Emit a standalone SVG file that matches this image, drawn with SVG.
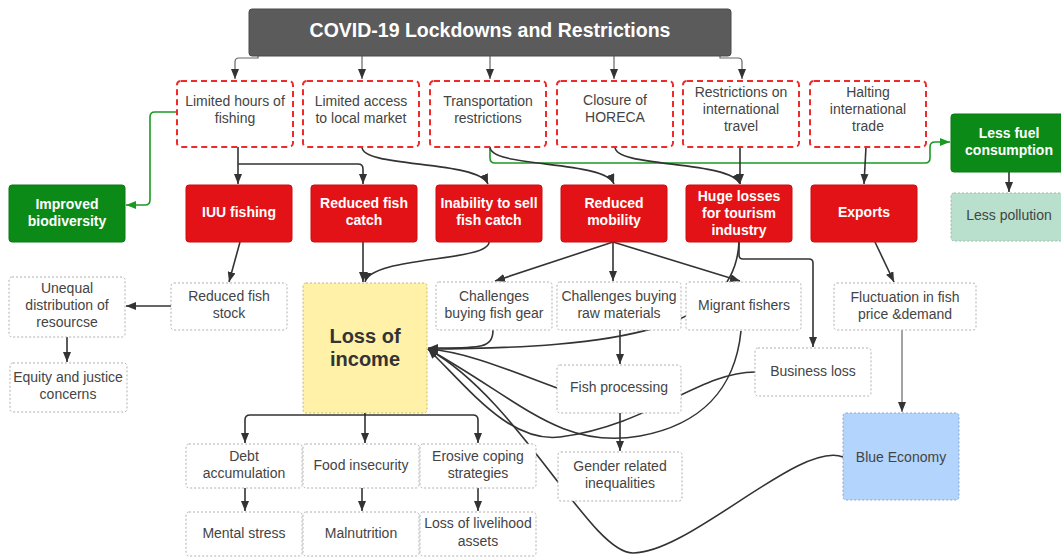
<svg xmlns="http://www.w3.org/2000/svg" width="1061" height="558" viewBox="0 0 1061 558">
  <style>
    .t { font-family: "Liberation Sans", Arial, sans-serif; font-size: 14px; fill: #444; text-anchor: middle; }
    .w { font-family: "Liberation Sans", Arial, sans-serif; font-size: 14px; font-weight: bold; fill: #fff; text-anchor: middle; }
    .cause rect { fill: #fff; stroke: #ee2a2a; stroke-width: 2; stroke-dasharray: 6 4; }
    .effect rect { fill: #e31216; stroke: #c80e10; stroke-width: 1; }
    .good rect { fill: #0b8a18; stroke: #0a7a14; stroke-width: 1; }
    .plain rect { fill: #fff; stroke: #b0b0b0; stroke-width: 1; stroke-dasharray: 2 2; }
    .link { fill: none; stroke: #333; stroke-width: 1.6; marker-end: url(#ah); }
    .thin { fill: none; stroke: #666; stroke-width: 1.2; marker-end: url(#ah); }
    .green { fill: none; stroke: #1a9a22; stroke-width: 1.6; marker-end: url(#ahg); }
  </style>
  <defs>
    <marker id="ah" viewBox="0 0 10 8" refX="10" refY="4" markerWidth="10" markerHeight="8" markerUnits="userSpaceOnUse" orient="auto">
      <path d="M0,0 L10,4 L0,8 z" fill="#333"/>
    </marker>
    <marker id="ahg" viewBox="0 0 10 8" refX="10" refY="4" markerWidth="10" markerHeight="8" markerUnits="userSpaceOnUse" orient="auto">
      <path d="M0,0 L10,4 L0,8 z" fill="#1a9a22"/>
    </marker>
  </defs>
  <rect width="1061" height="558" fill="#fff"/>

  <!-- connectors -->
  <g id="connectors">
    <path class="thin" d="M258,56 V58 H239 Q235,58 235,62 V79"/>
    <path class="thin" d="M362,56 V79"/>
    <path class="thin" d="M490,56 V79"/>
    <path class="thin" d="M614,56 V79"/>
    <path class="thin" d="M720,56 V58 H738 Q742,58 742,62 V79"/>

    <path class="green" d="M177,112 H155 Q150,112 150,117 V200 Q150,205 145,205 H126"/>
    <path class="green" d="M490,147 V158 Q490,163 495,163 H925 Q930,163 930,158 V147 Q930,142 935,142 H950"/>

    <path class="link" d="M238,147 V184"/>
    <path class="link" d="M238,164 H358 Q363,164 363,169 V184"/>
    <path class="link" d="M362,147 C362,168 478,160 488,184"/>
    <path class="link" d="M490,147 C490,168 605,160 614,184"/>
    <path class="link" d="M615,147 C615,168 730,160 740,184"/>
    <path class="link" d="M740,147 V184"/>
    <path class="link" d="M866,147 L864,184"/>
    <path class="link" d="M1009,172 V192"/>

    <path class="link" d="M240,242 L229,282"/>
    <path class="link" d="M363,242 V282"/>
    <path class="link" d="M489,242 C489,262 372,256 365,282"/>
    <path class="link" d="M613,242 L495,281"/>
    <path class="link" d="M613,242 V281"/>
    <path class="link" d="M613,242 L740,281"/>
    <path class="link" d="M739,242 V255 Q739,259 743,259 H809 Q813,259 813,263 V347"/>
    <path class="link" d="M739,242 C735,330 620,348 428,349"/>
    <path class="link" d="M875,242 L894,282"/>
    <path class="thin" d="M902,330 V412"/>
    <path class="link" d="M171,306 H126"/>
    <path class="link" d="M67,337 V362"/>

    <path class="link" d="M493,330 C493,348 480,348 440,348 L428,348"/>
    <path class="link" d="M620,330 V364"/>
    <path class="link" d="M620,413 V451"/>
    <path class="link" d="M557,388 C520,375 470,352 428,349"/>
    <path class="link" d="M741,331 C735,390 700,425 640,436 C560,450 520,400 428,349"/>
    <path class="link" d="M755,372 C700,372 650,425 560,437 C510,443 470,390 428,349"/>
    <path class="link" d="M843,457 C800,440 690,553 633,553 C590,553 520,400 428,349"/>

    <path class="link" d="M365,413 V415 H250 Q245,415 245,420 V443"/>
    <path class="link" d="M365,413 V443"/>
    <path class="link" d="M365,413 V415 H473 Q478,415 478,420 V443"/>
    <path class="link" d="M245,488 V511"/>
    <path class="link" d="M362,488 V511"/>
    <path class="link" d="M478,488 V511"/>
  </g>

  <!-- header -->
  <g id="n-title">
    <rect x="249" y="9" width="482" height="47" rx="3" fill="#5b5b5b" stroke="#4a4a4a" stroke-width="1"/>
    <text x="490" y="37" font-family="Liberation Sans, Arial, sans-serif" font-size="19.5" font-weight="bold" fill="#fff" text-anchor="middle">COVID-19 Lockdowns and Restrictions</text>
  </g>

  <!-- restrictions -->
  <g id="n-hours" class="cause"><rect x="177" y="81" width="116" height="66" rx="4"/>
    <text class="t" x="235" y="106">Limited hours of</text><text class="t" x="235" y="123">fishing</text></g>
  <g id="n-market" class="cause"><rect x="303" y="81" width="116" height="66" rx="4"/>
    <text class="t" x="361" y="106">Limited access</text><text class="t" x="361" y="123">to local market</text></g>
  <g id="n-transport" class="cause"><rect x="430" y="81" width="116" height="66" rx="4"/>
    <text class="t" x="488" y="106">Transportation</text><text class="t" x="488" y="123">restrictions</text></g>
  <g id="n-horeca" class="cause"><rect x="557" y="81" width="116" height="66" rx="4"/>
    <text class="t" x="615" y="105">Closure of</text><text class="t" x="615" y="122">HORECA</text></g>
  <g id="n-travel" class="cause"><rect x="683" y="81" width="116" height="66" rx="4"/>
    <text class="t" x="741" y="97">Restrictions on</text><text class="t" x="741" y="114">international</text><text class="t" x="741" y="131">travel</text></g>
  <g id="n-trade" class="cause"><rect x="810" y="81" width="116" height="66" rx="4"/>
    <text class="t" x="868" y="97">Halting</text><text class="t" x="868" y="114">international</text><text class="t" x="868" y="131">trade</text></g>

  <!-- direct impacts -->
  <g id="n-biodiversity" class="good"><rect x="9" y="185" width="116" height="57" rx="3"/>
    <text class="w" x="67" y="209">Improved</text><text class="w" x="67" y="226">biodiversity</text></g>
  <g id="n-iuu" class="effect"><rect x="186" y="185" width="106" height="57" rx="3"/>
    <text class="w" x="239" y="217">IUU fishing</text></g>
  <g id="n-catch" class="effect"><rect x="311" y="185" width="106" height="57" rx="3"/>
    <text class="w" x="364" y="208">Reduced fish</text><text class="w" x="364" y="225">catch</text></g>
  <g id="n-sell" class="effect"><rect x="436" y="185" width="106" height="57" rx="3"/>
    <text class="w" x="489" y="208">Inability to sell</text><text class="w" x="489" y="225">fish catch</text></g>
  <g id="n-mobility" class="effect"><rect x="561" y="185" width="106" height="57" rx="3"/>
    <text class="w" x="614" y="208">Reduced</text><text class="w" x="614" y="225">mobility</text></g>
  <g id="n-tourism" class="effect"><rect x="686" y="185" width="106" height="57" rx="3"/>
    <text class="w" x="739" y="201">Huge losses</text><text class="w" x="739" y="218">for tourism</text><text class="w" x="739" y="235">industry</text></g>
  <g id="n-exports" class="effect"><rect x="811" y="185" width="106" height="57" rx="3"/>
    <text class="w" x="864" y="217">Exports</text></g>
  <g id="n-fuel" class="good"><rect x="951" y="114" width="120" height="58" rx="3"/>
    <text class="w" x="1009" y="138">Less fuel</text><text class="w" x="1009" y="155">consumption</text></g>
  <g id="n-pollution"><rect x="951" y="193" width="120" height="48" rx="3" fill="#b8e0cc" stroke="#a0b8ac" stroke-width="1" stroke-dasharray="2 2"/>
    <text class="t" x="1009" y="220">Less pollution</text></g>

  <!-- consequences -->
  <g id="n-unequal" class="plain"><rect x="9" y="277" width="116" height="60" rx="3"/>
    <text class="t" x="67" y="293">Unequal</text><text class="t" x="67" y="310">distribution of</text><text class="t" x="67" y="327">resourcse</text></g>
  <g id="n-equity" class="plain"><rect x="10" y="363" width="117" height="49" rx="3"/>
    <text class="t" x="68" y="382">Equity and justice</text><text class="t" x="68" y="399">concerns</text></g>
  <g id="n-stock" class="plain"><rect x="171" y="283" width="116" height="47" rx="3"/>
    <text class="t" x="229" y="301">Reduced fish</text><text class="t" x="229" y="318">stock</text></g>
  <g id="n-income"><rect x="303" y="283" width="124" height="130" rx="3" fill="#fff1a8" stroke="#c8b870" stroke-width="1" stroke-dasharray="2 2"/>
    <text x="365" y="343" font-family="Liberation Sans, Arial, sans-serif" font-size="20" font-weight="bold" fill="#333" text-anchor="middle">Loss of</text>
    <text x="365" y="366" font-family="Liberation Sans, Arial, sans-serif" font-size="20" font-weight="bold" fill="#333" text-anchor="middle">income</text></g>
  <g id="n-gear" class="plain"><rect x="436" y="282" width="116" height="48" rx="3"/>
    <text class="t" x="494" y="301">Challenges</text><text class="t" x="494" y="318">buying fish gear</text></g>
  <g id="n-raw" class="plain"><rect x="557" y="282" width="124" height="48" rx="3"/>
    <text class="t" x="619" y="301">Challenges buying</text><text class="t" x="619" y="318">raw materials</text></g>
  <g id="n-migrant" class="plain"><rect x="686" y="282" width="115" height="48" rx="3"/>
    <text class="t" x="744" y="310">Migrant fishers</text></g>
  <g id="n-fluctuation" class="plain"><rect x="834" y="283" width="142" height="47" rx="3"/>
    <text class="t" x="905" y="302">Fluctuation in fish</text><text class="t" x="905" y="319">price &amp;demand</text></g>
  <g id="n-business" class="plain"><rect x="755" y="348" width="116" height="48" rx="3"/>
    <text class="t" x="813" y="376">Business loss</text></g>
  <g id="n-processing" class="plain"><rect x="557" y="365" width="124" height="48" rx="3"/>
    <text class="t" x="619" y="392">Fish processing</text></g>
  <g id="n-gender" class="plain"><rect x="558" y="452" width="124" height="49" rx="3"/>
    <text class="t" x="620" y="471">Gender related</text><text class="t" x="620" y="488">inequalities</text></g>
  <g id="n-blue"><rect x="843" y="413" width="116" height="87" rx="3" fill="#b3d4fc" stroke="#8aa8d0" stroke-width="1" stroke-dasharray="2 2"/>
    <text class="t" x="901" y="462">Blue Economy</text></g>

  <!-- household outcomes -->
  <g id="n-debt" class="plain"><rect x="186" y="444" width="116" height="44" rx="3"/>
    <text class="t" x="244" y="461">Debt</text><text class="t" x="244" y="478">accumulation</text></g>
  <g id="n-food" class="plain"><rect x="303" y="444" width="116" height="44" rx="3"/>
    <text class="t" x="361" y="470">Food insecurity</text></g>
  <g id="n-coping" class="plain"><rect x="420" y="444" width="116" height="44" rx="3"/>
    <text class="t" x="478" y="461">Erosive coping</text><text class="t" x="478" y="478">strategies</text></g>
  <g id="n-stress" class="plain"><rect x="186" y="512" width="116" height="44" rx="3"/>
    <text class="t" x="244" y="538">Mental stress</text></g>
  <g id="n-malnutrition" class="plain"><rect x="303" y="512" width="116" height="44" rx="3"/>
    <text class="t" x="361" y="538">Malnutrition</text></g>
  <g id="n-assets" class="plain"><rect x="420" y="512" width="116" height="44" rx="3"/>
    <text class="t" x="478" y="528">Loss of livelihood</text><text class="t" x="478" y="546">assets</text></g>
</svg>
